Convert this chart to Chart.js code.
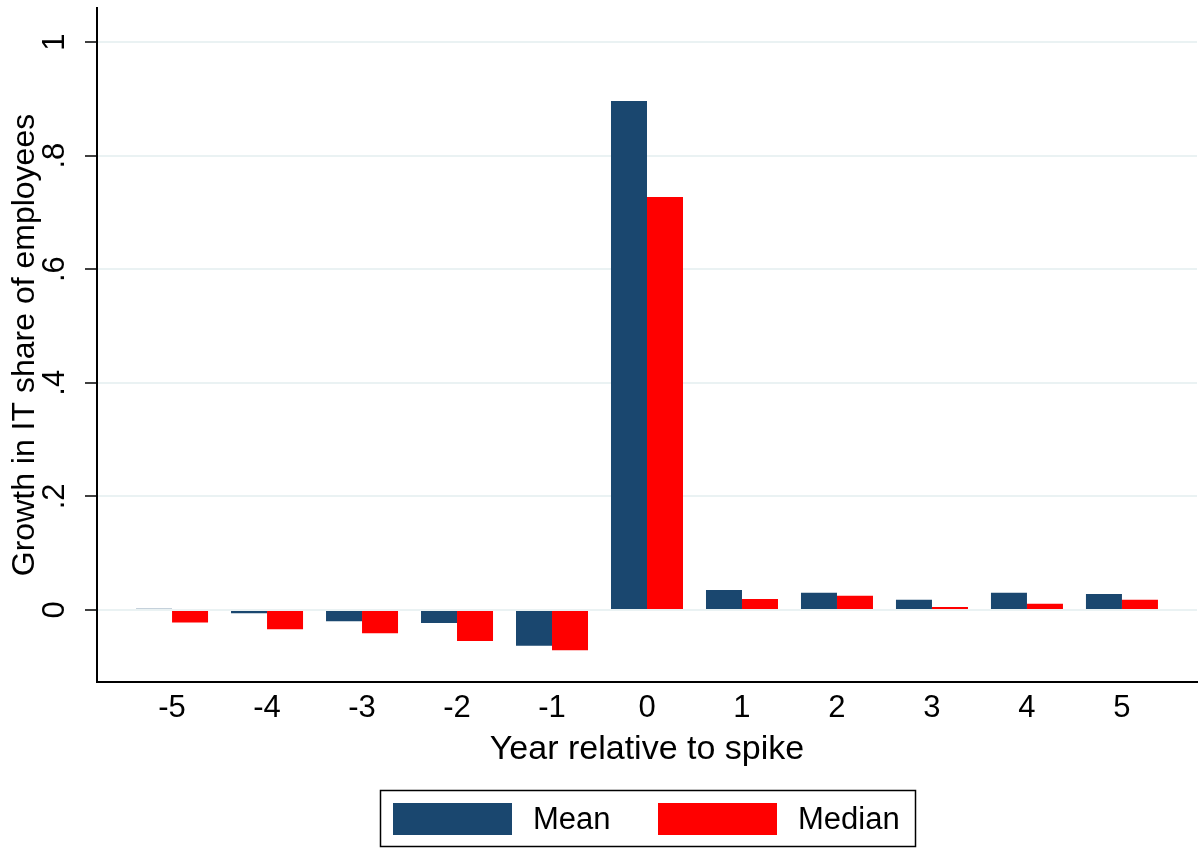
<!DOCTYPE html>
<html>
<head>
<meta charset="utf-8">
<script src="https://cdn.jsdelivr.net/npm/chart.js@4.4.1/dist/chart.umd.min.js"></script>
<style>
html,body{margin:0;padding:0;background:#fff;}
canvas{display:block;}
</style>
</head>
<body>
<canvas id="c" width="1199" height="848"></canvas>
<script>
// ---- data ----
const years = [-5, -4, -3, -2, -1, 0, 1, 2, 3, 4, 5];
const xTickLabels = ['-5', '-4', '-3', '-2', '-1', '0', '1', '2', '3', '4', '5'];
const meanValues = [0.002, -0.006, -0.020, -0.023, -0.063, 0.896, 0.035, 0.030, 0.018, 0.030, 0.028];
const medianValues = [-0.022, -0.034, -0.041, -0.055, -0.071, 0.727, 0.019, 0.025, 0.005, 0.011, 0.018];
const yTickValues = [0, 0.2, 0.4, 0.6, 0.8, 1];
const yTickLabels = ['0', '.2', '.4', '.6', '.8', '1'];
const seriesNames = ['Mean', 'Median'];
const seriesColors = ['#1a476f', '#ff0000'];

const FONT = "'Liberation Sans', Arial, sans-serif";

const legendPlugin = {
  id: 'boxLegend',
  afterDraw(chart) {
    const ctx = chart.ctx;
    ctx.save();
    ctx.strokeStyle = '#000';
    ctx.lineWidth = 1.5;
    ctx.strokeRect(380.5, 790.5, 535, 56);
    const items = chart.data.datasets;
    const swX = [393, 658];
    ctx.font = '31px ' + FONT;
    ctx.textBaseline = 'middle';
    ctx.textAlign = 'left';
    items.forEach((ds, i) => {
      ctx.fillStyle = ds.backgroundColor;
      ctx.fillRect(swX[i], 803, 119, 32);
      ctx.fillStyle = '#000';
      ctx.fillText(ds.label, swX[i] + 140, 820);
    });
    ctx.restore();
  }
};

const toXY = vals => vals.map((v, i) => ({x: years[i], y: v}));

new Chart(document.getElementById('c'), {
  type: 'bar',
  data: {
    datasets: [
      {label: seriesNames[0], data: toXY(meanValues), backgroundColor: seriesColors[0], borderWidth: 0},
      {label: seriesNames[1], data: toXY(medianValues), backgroundColor: seriesColors[1], borderWidth: 0}
    ]
  },
  options: {
    responsive: false,
    animation: false,
    devicePixelRatio: 1,
    layout: {padding: {top: 8, right: 2, bottom: 78, left: 0}},
    plugins: {legend: {display: false}, tooltip: {enabled: false}},
    datasets: {bar: {categoryPercentage: 0.758, barPercentage: 1.0}},
    scales: {
      x: {
        type: 'linear',
        offset: false,
        min: -5.79,
        max: 5.79,
        afterBuildTicks: s => { s.ticks = years.map(v => ({value: v})); },
        afterFit: s => { s.height = 88; s.paddingLeft = 0; s.paddingRight = 0; },
        ticks: {
          autoSkip: false,
          maxRotation: 0,
          padding: 0,
          color: '#000',
          font: {family: FONT, size: 31},
          callback: (v) => xTickLabels[years.indexOf(v)]
        },
        grid: {offset: false, drawOnChartArea: false, drawTicks: true, tickLength: 8, tickColor: 'rgba(0,0,0,0)'},
        border: {color: '#000', width: 2},
        title: {display: true, text: 'Year relative to spike', color: '#000', font: {family: FONT, size: 34}, padding: {top: 0, bottom: 0}}
      },
      y: {
        min: -0.127,
        max: 1.06,
        afterBuildTicks: s => { s.ticks = yTickValues.map(v => ({value: v})); },
        afterFit: s => { s.width = 97; s.paddingTop = 0; s.paddingBottom = 0; },
        ticks: {
          minRotation: 90,
          maxRotation: 90,
          crossAlign: 'center',
          padding: 17,
          color: '#000',
          font: {family: FONT, size: 31},
          callback: (v) => yTickLabels[yTickValues.indexOf(v)]
        },
        grid: {color: '#eaf2f3', lineWidth: 2, drawTicks: true, tickLength: 12, tickColor: '#000', tickWidth: 1.5},
        border: {color: '#000', width: 2},
        title: {display: true, text: 'Growth in IT share of employees', color: '#000', font: {family: FONT, size: 32}, padding: {top: 6, bottom: 0}}
      }
    }
  },
  plugins: [legendPlugin]
});
</script>
</body>
</html>
